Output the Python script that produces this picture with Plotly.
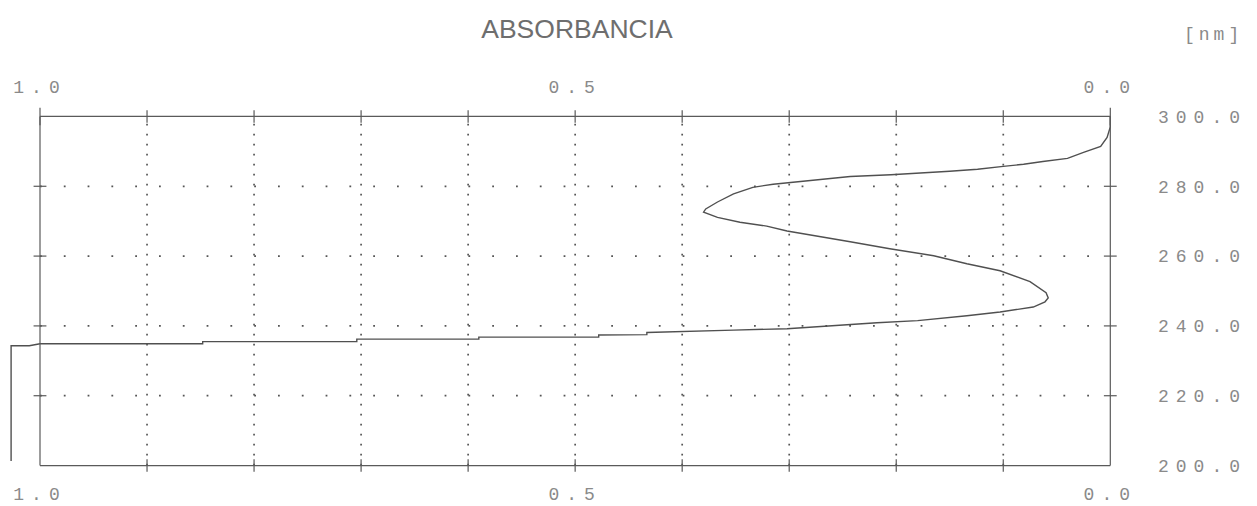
import plotly.graph_objects as go

# ---- data ----
absorbance = [0.000, 0.000, 0.003, 0.009, 0.025, 0.040, 0.063, 0.081, 0.100, 0.124,
              0.150, 0.180, 0.205, 0.243, 0.293, 0.315, 0.334, 0.352, 0.367, 0.378,
              0.380, 0.367, 0.346, 0.321, 0.302, 0.274, 0.243, 0.206, 0.165, 0.134,
              0.103, 0.075, 0.060, 0.058, 0.061, 0.072, 0.103, 0.134, 0.180, 0.218,
              0.264, 0.302, 0.352, 0.398, 0.433, 0.433, 0.478, 0.478, 0.590, 0.590,
              0.704, 0.704, 0.848, 0.848, 1.000, 1.010, 1.027, 1.027]
wavelength = [300.0, 297.0, 294.0, 291.4, 289.7, 288.0, 287.1, 286.3, 285.7, 284.9,
              284.3, 283.7, 283.3, 282.8, 281.2, 280.6, 279.7, 277.8, 275.5, 273.5,
              272.6, 271.1, 269.7, 268.6, 267.2, 265.8, 264.1, 262.1, 260.1, 257.8,
              255.8, 252.7, 249.5, 248.0, 246.9, 245.4, 244.0, 242.9, 241.5, 240.9,
              240.0, 239.2, 238.8, 238.3, 238.1, 237.5, 237.4, 236.8, 236.8, 236.2,
              236.2, 235.5, 235.5, 234.9, 234.9, 234.3, 234.3, 201.3]

x_tick_vals = [1.0, 0.5, 0.0]
x_tick_text = ["1.0", "0.5", "0.0"]
y_tick_vals = [200, 220, 240, 260, 280, 300]
y_tick_text = ["200.0", "220.0", "240.0", "260.0", "280.0", "300.0"]
grid_abs = [0.1, 0.2, 0.3, 0.4, 0.5, 0.6, 0.7, 0.8, 0.9]
grid_wl = [220, 240, 260, 280]
frame_abs = [1.0, 0.0]
frame_wl = [200, 300]

title_text = "ABSORBANCIA"
unit_text = "[nm]"

DOT_FONT = dict(family="Liberation Mono, DejaVu Sans Mono, monospace", size=18, color="#8a8a8a")


def dm(s, sp=7):
    return '<span style="letter-spacing:%dpx">' % sp + s + '</span>'


fig = go.Figure()
fig.add_trace(go.Scatter(x=absorbance, y=wavelength, mode="lines",
                         line=dict(color="#505050", width=1.4),
                         showlegend=False, hoverinfo="skip"))
fig.add_trace(go.Scatter(x=frame_abs, y=frame_wl, xaxis="x2", mode="markers",
                         marker=dict(opacity=0), showlegend=False, hoverinfo="skip"))

shapes = []
# dotted grid
for a in grid_abs:
    shapes.append(dict(type="line", xref="x", yref="y", x0=a, x1=a, y0=frame_wl[0], y1=frame_wl[1],
                       line=dict(color="#555555", width=1.7, dash="1.7px,8.3px"), layer="below"))
for w in grid_wl:
    shapes.append(dict(type="line", xref="x", yref="y", x0=frame_abs[0], x1=frame_abs[1], y0=w, y1=w,
                       line=dict(color="#555555", width=1.8, dash="1.8px,22px"), layer="below"))
# frame
for w in frame_wl:
    shapes.append(dict(type="line", xref="x", yref="y", x0=frame_abs[0], x1=frame_abs[1], y0=w, y1=w,
                       line=dict(color="#5a5a5a", width=1.2)))
for a in frame_abs:
    shapes.append(dict(type="line", xref="x", yref="y", x0=a, x1=a, y0=frame_wl[0], y1=frame_wl[1],
                       line=dict(color="#5a5a5a", width=1.2)))
# tick marks crossing the frame
for a in grid_abs:
    for w in frame_wl:
        shapes.append(dict(type="line", xref="x", yref="y", x0=a, x1=a, y0=w - 1.8, y1=w + 1.8,
                           line=dict(color="#5a5a5a", width=1.2)))
for a in frame_abs:
    shapes.append(dict(type="line", xref="x", yref="y", x0=a, x1=a, y0=frame_wl[1] - 2.5, y1=frame_wl[1] + 2.5,
                       line=dict(color="#5a5a5a", width=1.2)))
for w in grid_wl:
    for a in frame_abs:
        shapes.append(dict(type="line", xref="x", yref="y", x0=a - 0.006, x1=a + 0.006, y0=w, y1=w,
                           line=dict(color="#5a5a5a", width=1.2)))

fig.update_layout(
    width=1257, height=506,
    margin=dict(l=2, r=136, t=106, b=30, autoexpand=False),
    paper_bgcolor="white", plot_bgcolor="white",
    showlegend=False,
    title=dict(text=title_text, x=577 / 1257, xanchor="center", y=1 - 29 / 506, yanchor="middle",
               font=dict(family="Liberation Sans, Arial, sans-serif", size=26.5, color="#6e6e6e")),
    xaxis=dict(range=[1.0355, -0.0100], side="bottom", tickvals=x_tick_vals,
               ticktext=[dm(t) for t in x_tick_text], showgrid=False, zeroline=False,
               showline=False, ticks="", ticklabelstandoff=5, tickfont=DOT_FONT, automargin=False),
    xaxis2=dict(matches="x", overlaying="x", side="top", tickvals=x_tick_vals,
                ticktext=[dm(t) for t in x_tick_text], showgrid=False, zeroline=False,
                showline=False, ticks="", ticklabelstandoff=8, tickfont=DOT_FONT, automargin=False),
    yaxis=dict(range=[197, 303], side="right", tickvals=y_tick_vals,
               ticktext=[dm(t) for t in y_tick_text], showgrid=False, zeroline=False,
               showline=False, ticks="", ticklabelstandoff=36, tickfont=DOT_FONT, automargin=False),
    shapes=shapes,
    annotations=[dict(text=dm(unit_text, 4), xref="paper", yref="paper", x=(1213 - 2) / 1119,
                      y=(476 - 35) / 370, xanchor="center", yanchor="middle", showarrow=False,
                      font=DOT_FONT)],
)

fig.write_html("out.html", config={"displayModeBar": False},
               post_script="document.body.style.margin='0';")
